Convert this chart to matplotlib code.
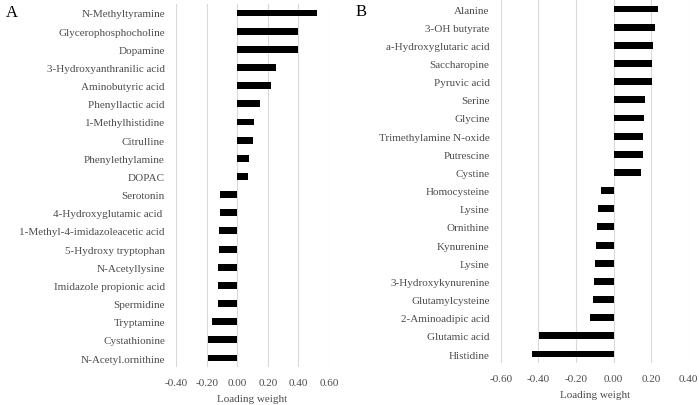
import matplotlib.pyplot as plt

# panel A
names_a = ["N-Methyltyramine", "Glycerophosphocholine", "Dopamine",
           "3-Hydroxyanthranilic acid", "Aminobutyric acid", "Phenyllactic acid",
           "1-Methylhistidine", "Citrulline", "Phenylethylamine", "DOPAC",
           "Serotonin", "4-Hydroxyglutamic acid ", "1-Methyl-4-imidazoleacetic acid",
           "5-Hydroxy tryptophan", "N-Acetyllysine", "Imidazole propionic acid",
           "Spermidine", "Tryptamine", "Cystathionine", "N-Acetyl.ornithine"]
weights_a = [0.52, 0.40, 0.40, 0.25, 0.22, 0.146, 0.11, 0.10, 0.076, 0.068,
             -0.113, -0.113, -0.117, -0.12, -0.124, -0.124, -0.124, -0.165,
             -0.189, -0.193]
ticks_a = [-0.4, -0.2, 0.0, 0.2, 0.4, 0.6]

# panel B
names_b = ["Alanine", "3-OH butyrate", "a-Hydroxyglutaric acid", "Saccharopine",
           "Pyruvic acid", "Serine", "Glycine", "Trimethylamine N-oxide",
           "Putrescine", "Cystine", "Homocysteine", "Lysine", "Ornithine",
           "Kynurenine", "Lysine", "3-Hydroxykynurenine", "Glutamylcysteine",
           "2-Aminoadipic acid", "Glutamic acid", "Histidine"]
weights_b = [0.236, 0.222, 0.209, 0.207, 0.207, 0.17, 0.162, 0.157, 0.157,
             0.146, -0.065, -0.08, -0.087, -0.094, -0.096, -0.103, -0.108,
             -0.124, -0.395, -0.434]
ticks_b = [-0.6, -0.4, -0.2, 0.0, 0.2, 0.4]

plt.rcParams['font.family'] = ['Liberation Serif', 'DejaVu Serif']
grey = '#4d4d4d'

fig = plt.figure(figsize=(6.99, 4.06), dpi=100)
ax_a = fig.add_axes([0.2518, 0.0933, 0.219, 0.8946])
ax_b = fig.add_axes([0.7163, 0.1032, 0.269, 0.8945])


def draw(ax, names, weights, ticks):
    pos = list(range(len(names)))
    ax.barh(pos, weights, height=0.38, color='black', zorder=3)
    ax.set_yticks(pos)
    ax.set_yticklabels(names)
    ax.set_ylim(len(names) - 0.5, -0.5)
    ax.set_xlim(ticks[0], ticks[-1])
    ax.set_xticks(ticks)
    ax.set_xticklabels(['%.2f' % t for t in ticks])
    ax.grid(axis='x', color='#d9d9d9', linewidth=0.8, zorder=0)
    for s in ax.spines.values():
        s.set_visible(False)
    ax.tick_params(length=0, labelsize=8, colors=grey, pad=8)
    ax.tick_params(axis='x', pad=8)
    ax.set_xlabel("Loading weight", fontsize=8, color=grey, labelpad=5)


draw(ax_a, names_a, weights_a, ticks_a)
draw(ax_b, names_b, weights_b, ticks_b)

fig.text(0.008, 0.958, "A", fontsize=12)
fig.text(0.508, 0.961, "B", fontsize=12)

fig.savefig("out.png", dpi=100)
